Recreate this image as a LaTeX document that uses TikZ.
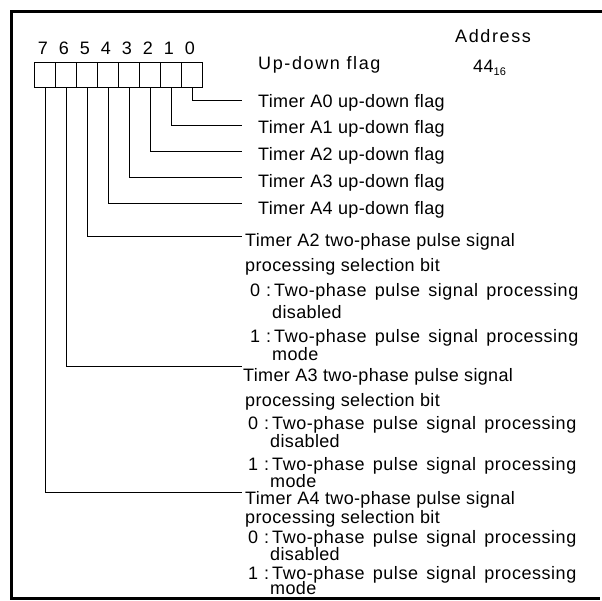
\documentclass[tikz,border=0pt]{standalone}
\usepackage{fontspec}
\setmainfont{Liberation Sans}[LetterSpace=2]
\newfontfamily\optfont{Liberation Sans}[LetterSpace=3,WordSpace=1.5]
\newfontfamily\hdrfont{Liberation Sans}[LetterSpace=9]
\begin{document}
\begin{tikzpicture}[x=1pt,y=-1pt,
  txt/.style={anchor=base west,inner sep=0pt,font=\fontsize{18}{19}\selectfont},
  opt/.style={txt,font=\fontsize{18}{19}\optfont},
  hdr/.style={txt,font=\fontsize{18}{19}\hdrfont},
  bitnum/.style={anchor=base,inner sep=0pt,font=\fontsize{18}{19}\selectfont},
  cell/.style={draw,line width=1.3pt,minimum width=21pt,minimum height=25pt,inner sep=0pt,anchor=north west},
  conn/.style={line width=0.7pt},
  frame/.style={line width=3pt}]
\useasboundingbox (0,0) rectangle (602,600);
% frame
\draw[frame] (602,11) -- (11,11) -- (11,598.3) -- (600,598.3);
% header
\node[hdr] (addr) at (455,42) {Address};
\node[hdr] (udf) at (258,69) {Up-down flag};
\node[txt] (adr44) at (473,72) {44\raisebox{-0.35ex}{\fontsize{11}{11}\selectfont 16}};
% register cells (bit 7 at left)
\foreach \b [evaluate=\b as \xx using {34+(7-\b)*21}] in {7,6,5,4,3,2,1,0} {
  \node[cell] (c\b) at (\xx,62) {};
  \node[bitnum] (n\b) at (\xx+9,54) {\b};
}
% labels for bits 0-4
\node[txt] (l0) at (258,107) {Timer A0 up-down flag};
\node[txt] (l1) at (258,133) {Timer A1 up-down flag};
\node[txt] (l2) at (258,160) {Timer A2 up-down flag};
\node[txt] (l3) at (258,187) {Timer A3 up-down flag};
\node[txt] (l4) at (258,214) {Timer A4 up-down flag};
% bit 5 block
\node[txt] (l5) at (245,246) {Timer A2 two-phase pulse signal};
\node[txt] (l5b) at (245,271) {processing selection bit};
\node[opt] (l5c) at (250,296) {0\,\,:\,Two-phase pulse signal processing};
\node[txt] (l5d) at (272,318) {disabled};
\node[opt] (l5e) at (250,342) {1\,\,:\,Two-phase pulse signal processing};
\node[txt] (l5f) at (272,360) {mode};
% bit 6 block
\node[txt] (l6) at (243,381) {Timer A3 two-phase pulse signal};
\node[txt] (l6b) at (245,406) {processing selection bit};
\node[opt] (l6c) at (248,429) {0\,\,:\,Two-phase pulse signal processing};
\node[txt] (l6d) at (270,447) {disabled};
\node[opt] (l6e) at (248,470) {1\,\,:\,Two-phase pulse signal processing};
\node[txt] (l6f) at (270,487.5) {mode};
% bit 7 block
\node[txt] (l7) at (245,504) {Timer A4 two-phase pulse signal};
\node[txt] (l7b) at (245,523.5) {processing selection bit};
\node[opt] (l7c) at (248,543.5) {0\,\,:\,Two-phase pulse signal processing};
\node[txt] (l7d) at (270,560.5) {disabled};
\node[opt] (l7e) at (248,579) {1\,\,:\,Two-phase pulse signal processing};
\node[txt] (l7f) at (270,594) {mode};
% connectors
\foreach \b/\y in {0/100,1/125,2/151,3/177,4/203,5/236,6/366,7/492} {
  \coordinate (e\b) at (242,\y);
  \draw[conn] (c\b.south) |- (e\b);
}
\end{tikzpicture}
\end{document}
